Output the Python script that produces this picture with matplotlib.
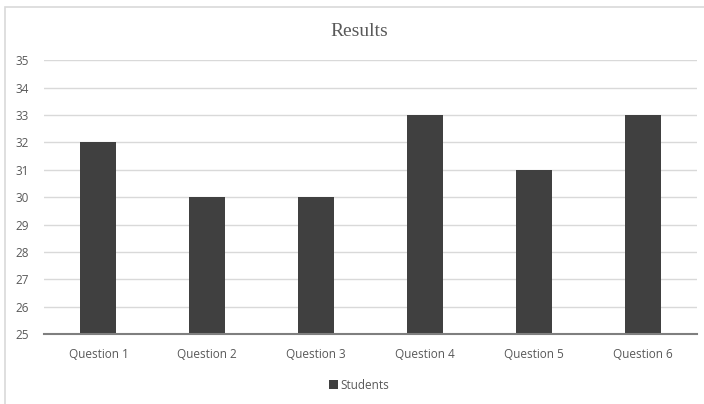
import matplotlib.pyplot as plt
import numpy as np
from matplotlib.patches import Rectangle

questions = ['Question 1', 'Question 2', 'Question 3', 'Question 4', 'Question 5', 'Question 6']
students = [32, 30, 30, 33, 31, 33]
yticks = list(range(25, 36))

fig = plt.figure(figsize=(7.04, 4.04), dpi=100)
ax = fig.add_axes([0.0625, 0.173, 0.928, 0.678])

x = np.arange(len(questions))
ax.bar(x, students, width=0.33, color='#404040', label='Students', zorder=3)

ax.set_xlim(-0.5, len(questions) - 0.5)
ax.set_ylim(25, 35)
ax.set_yticks(yticks)
ax.set_xticks(x)
ax.set_xticklabels(questions)

# light horizontal gridlines, no frame except the base line
ax.grid(axis='y', color='#d9d9d9', linewidth=1, zorder=0)
for s in ['top', 'right', 'left']:
    ax.spines[s].set_visible(False)
ax.spines['bottom'].set_color('#7f7f7f')
ax.spines['bottom'].set_linewidth(1.5)
ax.spines['bottom'].set_zorder(4)
ax.tick_params(length=0, labelsize=8.5, labelcolor='#595959', pad=10)
ax.tick_params(axis='y', pad=11)
for lab in ax.get_xticklabels() + ax.get_yticklabels():
    lab.set_family('Open Sans')

fig.text(0.51, 0.922, 'Results', ha='center', va='center', fontsize=14,
         family='Liberation Serif', color='#595959')

leg = fig.legend(loc='center', bbox_to_anchor=(0.51, 0.047), frameon=False,
                 handlelength=0.7, handleheight=0.7, handletextpad=0.2,
                 prop={'family': 'Open Sans', 'size': 8.5})
for t in leg.get_texts():
    t.set_color('#595959')

# chart area border
fig.patches.append(Rectangle((0.007, -0.01), 1.0, 0.993, transform=fig.transFigure,
                             fill=False, edgecolor='#d9d9d9', linewidth=1.2))

fig.savefig('out.png', dpi=100)
